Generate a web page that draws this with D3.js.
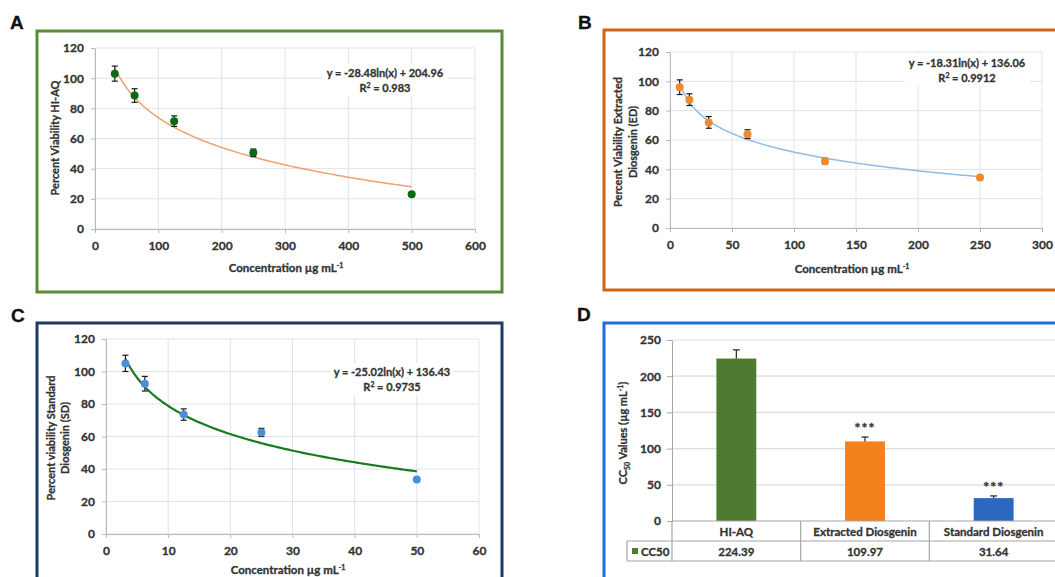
<!DOCTYPE html>
<meta charset="utf-8">
<style>
  body { margin: 0; background: #fff; }
  text { font-family: Lato, "Open Sans", sans-serif; font-weight: bold; fill: #333; stroke: #333; stroke-width: 0.3px; }
</style>
<svg width="1055" height="577"></svg>
<script src="https://d3js.org/d3.v7.min.js"></script>
<script>

// panel A : HI-AQ
var concA = [31.25, 62.5, 125, 250, 500],
    viabA = [103, 88.5, 71.5, 50.5, 23],
    errA  = [5, 4.5, 3.5, 2.5, 1],
    fitA  = [-28.48, 204.96];

// panel B : extracted diosgenin
var concB = [7.8125, 15.625, 31.25, 62.5, 125, 250],
    viabB = [96, 87.5, 72, 64, 45.5, 34.5],
    errB  = [5, 4, 4, 3, 2, 1],
    fitB  = [-18.31, 136.06];

// panel C : standard diosgenin
var concC = [3.125, 6.25, 12.5, 25, 50],
    viabC = [105, 92.5, 73.5, 62.5, 33.5],
    errC  = [5, 4.5, 3.5, 2.5, 1],
    fitC  = [-25.02, 136.43];

// panel D : CC50
var groups = ["HI-AQ", "Extracted Diosgenin", "Standard Diosgenin"],
    cc50 = [224.39, 109.97, 31.64],
    cc50Err = [12, 6, 3],
    cc50Labels = ["224.39", "109.97", "31.64"],
    signif = ["", "***", "***"];

var yTicks = [0, 20, 40, 60, 80, 100, 120];

var svg = d3.select("svg");
svg.append("rect").attr("width", 1055).attr("height", 577).attr("fill", "#fff");

var gridColor = "#dde3ec", axisColor = "#b4bac4";

// frames
function frame(x, y, w, h, color) {
  svg.append("rect").attr("x", x).attr("y", y).attr("width", w).attr("height", h)
    .attr("fill", "none").attr("stroke", color).attr("stroke-width", 3);
}
frame(37, 31, 465, 261, "#5a8a34");
frame(604, 30, 470, 260, "#cf6419");
frame(37, 323, 465, 300, "#1f3a62");
frame(604, 323, 470, 300, "#1f6fe0");

// panel letters
[["A", 10, 29], ["B", 578, 29], ["C", 11, 322], ["D", 577, 321]].forEach(function(d) {
  svg.append("text").attr("x", d[1]).attr("y", d[2]).text(d[0])
    .style("font-family", "'Liberation Sans', Arial, sans-serif")
    .style("font-size", "19px").style("fill", "#111").style("stroke", "#111");
});

function unitLabel(t, prefix) {
  t.append("tspan").text(prefix + "mL");
  t.append("tspan").text("-1").attr("dy", -4).style("font-size", "7px");
}

function scatterPanel(o) {
  var x = d3.scaleLinear().domain(o.xDomain).range(o.xRange),
      y = d3.scaleLinear().domain([0, 120]).range(o.yRange);
  var g = svg.append("g");

  // grid
  g.selectAll(".gy").data(yTicks).enter().append("line")
    .attr("x1", o.xRange[0]).attr("x2", o.xRange[1])
    .attr("y1", y).attr("y2", y).attr("stroke", gridColor);
  g.selectAll(".gx").data(o.xTicks).enter().append("line")
    .attr("x1", x).attr("x2", x)
    .attr("y1", o.yRange[0]).attr("y2", o.yRange[1]).attr("stroke", gridColor);

  // axes
  var ax = g.append("g").attr("transform", "translate(0," + o.yRange[0] + ")")
    .call(d3.axisBottom(x).tickValues(o.xTicks).tickSize(4).tickPadding(8).tickSizeOuter(0));
  var ay = g.append("g").attr("transform", "translate(" + o.xRange[0] + ",0)")
    .call(d3.axisLeft(y).tickValues(yTicks).tickSize(4).tickPadding(7).tickSizeOuter(0));
  [ax, ay].forEach(function(a) {
    a.select(".domain").attr("stroke", axisColor);
    a.selectAll(".tick line").attr("stroke", axisColor);
    a.selectAll(".tick text").style("font-size", "12px").style("font-family", "Lato, sans-serif").attr("fill", "#333");
  });

  // equation box
  var eq = g.append("g");
  var bg = eq.append("rect").attr("fill", "#fff").style("stroke", "none");
  eq.append("text").attr("x", o.eqPos[0]).attr("y", o.eqPos[1]).attr("text-anchor", "middle")
    .style("font-size", "11px")
    .text("y = " + o.fit[0].toFixed(2) + "ln(x) + " + o.fit[1].toFixed(2));
  var r = eq.append("text").attr("x", o.eqPos[0]).attr("y", o.eqPos[1] + 15).attr("text-anchor", "middle")
    .style("font-size", "11px");
  r.append("tspan").text("R");
  r.append("tspan").text("2").attr("dy", -4).style("font-size", "7px");
  r.append("tspan").text(" = " + o.r2).attr("dy", 4);
  var bb = eq.node().getBBox();
  bg.attr("x", bb.x - 4).attr("y", bb.y - 2).attr("width", bb.width + 8).attr("height", bb.height + 4);

  // trend line from the fitted coefficients
  var lo = d3.min(o.conc), hi = d3.max(o.conc);
  var xs = d3.range(120).map(function(i) { return lo + (hi - lo) * i / 119; });
  g.append("path").datum(xs)
    .attr("fill", "none").attr("stroke", o.lineColor).attr("stroke-width", o.lineWidth)
    .attr("d", d3.line().x(function(d) { return x(d); })
      .y(function(d) { return y(o.fit[0] * Math.log(d) + o.fit[1]); }));

  // error bars
  var pts = o.conc.map(function(c, i) { return { x: c, y: o.viab[i], e: o.err[i] }; });
  var eb = g.selectAll(".eb").data(pts).enter().append("g").attr("stroke", "#1a1a1a").attr("stroke-width", 1.2);
  eb.append("line").attr("x1", function(d) { return x(d.x); }).attr("x2", function(d) { return x(d.x); })
    .attr("y1", function(d) { return y(d.y - d.e); }).attr("y2", function(d) { return y(d.y + d.e); });
  [-1, 1].forEach(function(s) {
    eb.append("line").attr("x1", function(d) { return x(d.x) - 3; }).attr("x2", function(d) { return x(d.x) + 3; })
      .attr("y1", function(d) { return y(d.y + s * d.e); }).attr("y2", function(d) { return y(d.y + s * d.e); });
  });

  g.selectAll(".pt").data(pts).enter().append("circle")
    .attr("cx", function(d) { return x(d.x); }).attr("cy", function(d) { return y(d.y); })
    .attr("r", 4).attr("fill", o.pointColor);

  // axis titles
  var xt = g.append("text").attr("x", o.xTitle[0]).attr("y", o.xTitle[1]).attr("text-anchor", "middle")
    .style("font-size", "11.5px");
  unitLabel(xt, o.xTitlePrefix);

  o.yTitle.forEach(function(line, i) {
    g.append("text").attr("text-anchor", "middle")
      .attr("transform", "translate(" + o.yTitleX[i] + "," + o.yTitleY + ") rotate(-90)")
      .style("font-size", "11px").text(line);
  });
}

scatterPanel({
  conc: concA, viab: viabA, err: errA, fit: fitA, r2: "0.983",
  xDomain: [0, 600], xTicks: [0, 100, 200, 300, 400, 500, 600],
  xRange: [95, 475], yRange: [229, 48],
  eqPos: [385, 77], lineColor: "#f2a06c", lineWidth: 1.5, pointColor: "#0b6b12",
  xTitle: [286, 272], xTitlePrefix: "Concentration µg ",
  yTitle: ["Percent Viability HI-AQ"], yTitleX: [59], yTitleY: 138
});

scatterPanel({
  conc: concB, viab: viabB, err: errB, fit: fitB, r2: "0.9912",
  xDomain: [0, 300], xTicks: [0, 50, 100, 150, 200, 250, 300],
  xRange: [670, 1042], yRange: [228, 52],
  eqPos: [967, 67], lineColor: "#8fbbe6", lineWidth: 1.5, pointColor: "#f08a30",
  xTitle: [852, 273], xTitlePrefix: "Concentration  µg ",
  yTitle: ["Percent Viability Extracted", "Diosgenin  (ED)"], yTitleX: [622, 637], yTitleY: 142
});

scatterPanel({
  conc: concC, viab: viabC, err: errC, fit: fitC, r2: "0.9735",
  xDomain: [0, 60], xTicks: [0, 10, 20, 30, 40, 50, 60],
  xRange: [106, 479], yRange: [534, 339],
  eqPos: [392, 376], lineColor: "#1b7a1f", lineWidth: 2.2, pointColor: "#4a8fd6",
  xTitle: [288, 574], xTitlePrefix: "Concentration µg ",
  yTitle: ["Percent viability Standard", "Diosgenin (SD)"], yTitleX: [55, 69], yTitleY: 438
});

// ---------- panel D ----------
(function() {
  var left = 672, right = 1058, y0 = 521, y1 = 340;
  var y = d3.scaleLinear().domain([0, 250]).range([y0, y1]);
  var cell = d3.scaleBand().domain(groups).range([left, right]);
  var band = d3.scaleBand().domain(groups).range([left, right]).paddingInner(0.69).paddingOuter(0.345);
  var colors = ["#4e7b2f", "#f5801e", "#2c67c0"];
  var g = svg.append("g");
  var ticks = [0, 50, 100, 150, 200, 250];

  g.selectAll(".gy").data(ticks.slice(1)).enter().append("line")
    .attr("x1", left).attr("x2", right).attr("y1", y).attr("y2", y).attr("stroke", "#dcdcdc").attr("stroke-width", 1.2);

  var ay = g.append("g").attr("transform", "translate(" + left + ",0)")
    .call(d3.axisLeft(y).tickValues(ticks).tickSize(5).tickPadding(6).tickSizeOuter(0));
  ay.select(".domain").attr("stroke", "#a6a6a6");
  ay.selectAll(".tick line").attr("stroke", "#a6a6a6");
  ay.selectAll(".tick text").style("font-size", "12px").style("font-family", "Lato, sans-serif").attr("fill", "#333");

  g.selectAll(".bar").data(groups).enter().append("rect")
    .attr("x", function(d) { return band(d); }).attr("width", band.bandwidth())
    .attr("y", function(d, i) { return y(cc50[i]); })
    .attr("height", function(d, i) { return y0 - y(cc50[i]); })
    .attr("fill", function(d, i) { return colors[i]; });

  // error bars (upper only)
  groups.forEach(function(d, i) {
    var cx = band(d) + band.bandwidth() / 2;
    g.append("line").attr("x1", cx).attr("x2", cx).attr("y1", y(cc50[i])).attr("y2", y(cc50[i] + cc50Err[i]))
      .attr("stroke", "#222").attr("stroke-width", 1.2);
    g.append("line").attr("x1", cx - 3.5).attr("x2", cx + 3.5)
      .attr("y1", y(cc50[i] + cc50Err[i])).attr("y2", y(cc50[i] + cc50Err[i])).attr("stroke", "#222").attr("stroke-width", 1.2);
    if (signif[i]) {
      g.append("text").attr("x", cx).attr("y", y(cc50[i] + cc50Err[i]) - 4).attr("text-anchor", "middle")
        .style("font-size", "14px").style("letter-spacing", "1px").text(signif[i]);
    }
  });

  // data table
  var r1 = 541, r2 = 561, legL = 627, tcol = "#a6a6a6";
  g.append("line").attr("x1", left).attr("x2", right).attr("y1", y0).attr("y2", y0).attr("stroke", tcol).attr("stroke-width", 1.2);
  g.append("line").attr("x1", legL).attr("x2", right).attr("y1", r1).attr("y2", r1).attr("stroke", tcol).attr("stroke-width", 1.2);
  g.append("line").attr("x1", legL).attr("x2", right).attr("y1", r2).attr("y2", r2).attr("stroke", tcol).attr("stroke-width", 1.2);
  g.append("line").attr("x1", legL).attr("x2", legL).attr("y1", r1).attr("y2", r2).attr("stroke", tcol).attr("stroke-width", 1.2);
  g.append("line").attr("x1", left).attr("x2", left).attr("y1", y0).attr("y2", r2).attr("stroke", tcol).attr("stroke-width", 1.2);
  groups.forEach(function(d, i) {
    var cx = cell(d) + cell.bandwidth() / 2;
    if (i > 0) g.append("line").attr("x1", cell(d)).attr("x2", cell(d)).attr("y1", y0).attr("y2", r2)
      .attr("stroke", tcol).attr("stroke-width", 1.2);
    g.append("text").attr("x", cx).attr("y", y0 + 14.5).attr("text-anchor", "middle").style("font-size", "11.5px").text(d);
    g.append("text").attr("x", cx).attr("y", r1 + 14.5).attr("text-anchor", "middle").style("font-size", "11.5px").text(cc50Labels[i]);
  });
  g.append("rect").attr("x", 632).attr("y", r1 + 7).attr("width", 6).attr("height", 6).attr("fill", colors[0]);
  g.append("text").attr("x", 641).attr("y", r1 + 14.5).style("font-size", "11.5px").text("CC50");

  // y title
  var t = g.append("text").attr("text-anchor", "middle")
    .attr("transform", "translate(627,433) rotate(-90)").style("font-size", "11px");
  t.append("tspan").text("CC");
  t.append("tspan").text("50").attr("dy", 3).style("font-size", "7px");
  t.append("tspan").text(" Values (µg mL").attr("dy", -3);
  t.append("tspan").text("-1").attr("dy", -4).style("font-size", "7px");
  t.append("tspan").text(")").attr("dy", 4);
})();

</script>
